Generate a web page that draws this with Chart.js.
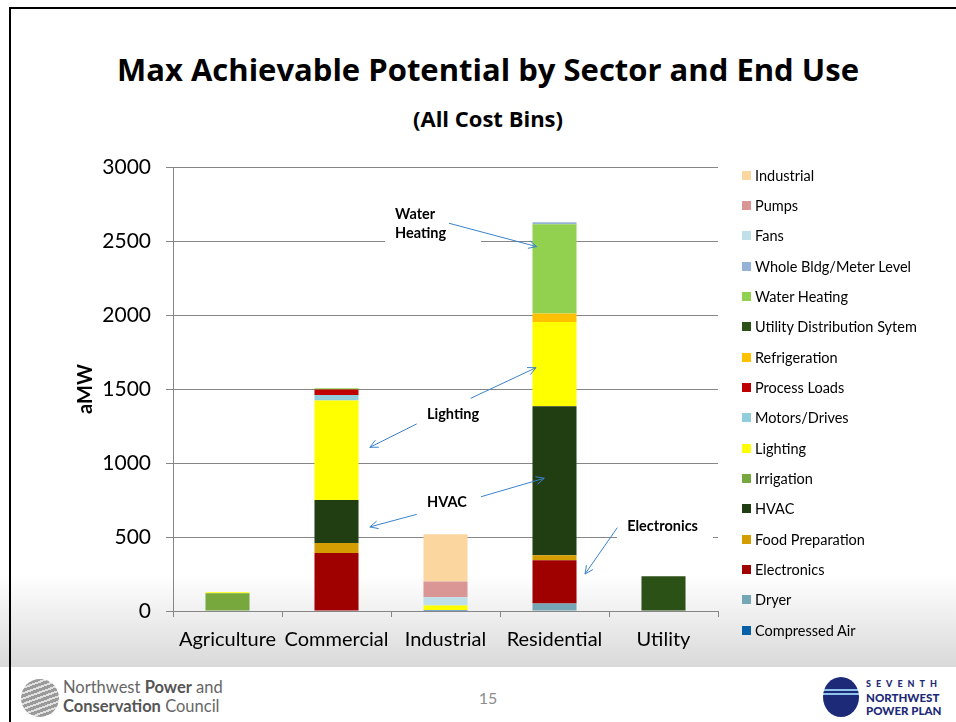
<!DOCTYPE html>
<html lang="en">
<head>
<meta charset="utf-8">
<title>Max Achievable Potential by Sector and End Use</title>
<script src="https://cdn.jsdelivr.net/npm/chart.js"></script>
<style>
  html, body { margin: 0; padding: 0; width: 956px; height: 722px; overflow: hidden; background: #fff; font-family: Lato, "Open Sans", sans-serif; }
  .fundo_slide { position: absolute; left: 0; top: 575px; width: 956px; height: 92px; background: linear-gradient(#ffffff, #d9d9d9); }
  .moldura { position: absolute; left: 9px; top: 7px; width: 980px; height: 740px; border: 2px solid #000; box-sizing: border-box; }
  #grafico { position: absolute; left: 0; top: 0; }
  .titulo { position: absolute; left: 0; width: 976px; text-align: center; font-family: "Open Sans", sans-serif; font-weight: bold; color: #000; white-space: nowrap; line-height: 1.2; }
  .titulo_principal { top: 51px; font-size: 31px; }
  .subtitulo { top: 105px; font-size: 22px; }
  #legenda { position: absolute; left: 742px; top: 160px; margin: 0; padding: 0; list-style: none; }
  #legenda li { height: 30.33px; display: flex; align-items: center; font-size: 14.5px; color: #000; white-space: nowrap; }
  #legenda span.caixa { width: 9px; height: 9px; margin-right: 4px; flex: none; }
  .rodape_logo { position: absolute; left: 21px; top: 679px; width: 38px; height: 38px; border-radius: 50%;
    background: repeating-linear-gradient(160deg, #9a9a9a 0 3px, #e0e0e0 3px 5px); }
  .rodape_texto { position: absolute; left: 63px; top: 678px; font-size: 16.5px; line-height: 19px; color: #666; }
  .rodape_texto b { color: #555; }
  .pagina { position: absolute; left: 468px; width: 40px; top: 688px; text-align: center; font-size: 16px; color: #8c8c8c; }
  .logo_plano { position: absolute; left: 823px; top: 677px; width: 36px; height: 40px; border-radius: 50%;
    background: linear-gradient(#1d2a78 0 12px, #8fc3ec 12px 14px, #1d2a78 14px 16px, #8fc3ec 16px 18px, #1d2a78 18px); }
  .texto_plano { position: absolute; left: 866px; top: 676px; color: #1d2a78; font-weight: 900; font-size: 11.5px; line-height: 13.5px; }
  .texto_plano .espaco { letter-spacing: 5px; font-size: 9px; }
</style>
</head>
<body>
  <div class="fundo_slide"></div>
  <div class="moldura"></div>
  <div class="titulo titulo_principal">Max Achievable Potential by Sector and End Use</div>
  <div class="titulo subtitulo">(All Cost Bins)</div>
  <canvas id="grafico" width="956" height="665"></canvas>
  <ul id="legenda"></ul>

  <div class="rodape_logo"></div>
  <div class="rodape_texto">Northwest <b>Power</b> and<br><b>Conservation</b> Council</div>
  <div class="pagina">15</div>
  <div class="logo_plano"></div>
  <div class="texto_plano"><span class="espaco">SEVENTH</span><br>NORTHWEST<br>POWER PLAN</div>

<script>
    // Setores (eixo X) e marcas do eixo Y
    const setores = ["Agriculture", "Commercial", "Industrial", "Residential", "Utility"];
    const marcasY = [0, 500, 1000, 1500, 2000, 2500, 3000];

    // aMW por uso final, na ordem de empilhamento (de baixo para cima)
    const compressedAir  = [0,   0,   7,    0,   0];
    const dryer          = [0,   0,   0,   50,   0];
    const electronics    = [0, 392,   0,  293,   0];
    const foodPrep       = [0,  67,   0,   34,   0];
    const hvac           = [0, 291,   0, 1007,   0];
    const irrigation     = [120, 0,   0,    0,   0];
    const lighting       = [6, 672,  31,  568,   0];
    const motorsDrives   = [0,  37,   0,    0,   0];
    const processLoads   = [0,  38,   0,    0,   0];
    const refrigeration  = [0,   0,   0,   58,   0];
    const utilityDist    = [0,   0,   0,    0, 235];
    const waterHeating   = [0,   8,   0,  604,   0];
    const wholeBldg      = [0,   0,   0,   13,   0];
    const fans           = [0,   0,  55,    0,   0];
    const pumps          = [0,   0, 107,    0,   0];
    const industrial     = [0,   0, 318,    0,   0];

    const nomesSeries = ["Compressed Air", "Dryer", "Electronics", "Food Preparation", "HVAC", "Irrigation",
        "Lighting", "Motors/Drives", "Process Loads", "Refrigeration", "Utility Distribution Sytem",
        "Water Heating", "Whole Bldg/Meter Level", "Fans", "Pumps", "Industrial"];
    const valoresSeries = [compressedAir, dryer, electronics, foodPrep, hvac, irrigation, lighting,
        motorsDrives, processLoads, refrigeration, utilityDist, waterHeating, wholeBldg, fans, pumps, industrial];
    const coresSeries = ["#0660a8", "#75a6b5", "#9f0000", "#d49e02", "#213e12", "#76a83e", "#ffff00",
        "#92cddc", "#c00000", "#ffc000", "#2b5116", "#92d050", "#95b3d7", "#bfdfe9", "#d99694", "#fcd69f"];

    // Notas com setas (posições em unidades de categoria / aMW)
    const notas = [
        { texto: ["Water", "Heating"], pos: [1.537, 2681], caixa: [1.445, 2757, 2.326, 2426],
          setas: [[2.032, 2620, 2.837, 2462]] },
        { texto: ["Lighting"], pos: [1.830, 1331],
          setas: [[1.736, 1264, 1.306, 1106], [2.231, 1437, 2.830, 1644]] },
        { texto: ["HVAC"], pos: [1.830, 734],
          setas: [[1.736, 653, 1.306, 568], [2.326, 772, 2.906, 897]] },
        { texto: ["Electronics"], pos: [3.667, 574], caixa: [3.573, 669, 4.454, 466],
          setas: [[3.576, 563, 3.280, 250]] }
    ];

    const pluginNotas = {
        id: "notas",
        afterDatasetsDraw(chart) {
            const { ctx, scales: { x, y } } = chart;
            const x0 = x.getPixelForValue(0);
            const passo = x.getPixelForValue(1) - x0;
            const px = (c) => x0 + c * passo;
            const py = (v) => y.getPixelForValue(v);

            ctx.save();
            notas.forEach((nota) => {
                if (nota.caixa) {
                    const [c1, v1, c2, v2] = nota.caixa;
                    ctx.fillStyle = "#ffffff";
                    ctx.fillRect(px(c1), py(v1), px(c2) - px(c1), py(v2) - py(v1));
                }
                ctx.fillStyle = "#000000";
                ctx.font = "bold 14.5px Lato";
                ctx.textAlign = "left";
                ctx.textBaseline = "middle";
                nota.texto.forEach((linha, i) => {
                    ctx.fillText(linha, px(nota.pos[0]), py(nota.pos[1]) + i * 19);
                });

                ctx.strokeStyle = "#3a83cc";
                ctx.lineWidth = 1;
                nota.setas.forEach(([ca, va, cb, vb]) => {
                    const ax = px(ca), ay = py(va), bx = px(cb), by = py(vb);
                    const ang = Math.atan2(by - ay, bx - ax);
                    ctx.beginPath();
                    ctx.moveTo(ax, ay);
                    ctx.lineTo(bx, by);
                    ctx.moveTo(bx - 9 * Math.cos(ang - 0.45), by - 9 * Math.sin(ang - 0.45));
                    ctx.lineTo(bx, by);
                    ctx.lineTo(bx - 9 * Math.cos(ang + 0.45), by - 9 * Math.sin(ang + 0.45));
                    ctx.stroke();
                });
            });
            ctx.restore();
        }
    };

    const grafico = new Chart(document.getElementById("grafico"), {
        type: "bar",
        data: {
            labels: setores,
            datasets: nomesSeries.map((nome, i) => ({
                label: nome,
                data: valoresSeries[i],
                backgroundColor: coresSeries[i],
                borderWidth: 0,
                barPercentage: 0.404,
                categoryPercentage: 1
            }))
        },
        options: {
            responsive: false,
            animation: false,
            layout: { padding: { left: 74, right: 238, top: 167, bottom: 14 } },
            plugins: {
                legend: { display: false },
                tooltip: { enabled: false }
            },
            scales: {
                x: {
                    stacked: true,
                    afterFit: (escala) => { escala.height = 40; },
                    grid: { drawOnChartArea: false, drawTicks: true, tickLength: 6, color: "#868686", offset: true },
                    border: { display: true, color: "#868686" },
                    ticks: { color: "#000", font: { family: "Lato", size: 20 }, padding: 11, maxRotation: 0, autoSkip: false }
                },
                y: {
                    stacked: true,
                    min: 0,
                    max: 3000,
                    afterBuildTicks: (escala) => { escala.ticks = marcasY.map((v) => ({ value: v })); },
                    afterFit: (escala) => { escala.width = 99; },
                    grid: { color: "#868686", tickLength: 7, drawTicks: true },
                    border: { display: true, color: "#868686" },
                    ticks: { color: "#000", font: { family: "Lato", size: 21 }, padding: 15, callback: (v) => String(v) },
                    title: { display: true, text: "aMW", color: "#000", font: { family: "Lato", size: 20, weight: "bold" }, padding: { top: 0, bottom: 6 } }
                }
            }
        },
        plugins: [pluginNotas]
    });

    // Legenda em HTML, gerada pelos itens do próprio Chart.js (ordem invertida, como no Excel)
    const itens = Chart.defaults.plugins.legend.labels.generateLabels(grafico).reverse();
    const legenda = document.getElementById("legenda");
    itens.forEach((item) => {
        const li = document.createElement("li");
        const caixa = document.createElement("span");
        caixa.className = "caixa";
        caixa.style.background = item.fillStyle;
        li.appendChild(caixa);
        li.appendChild(document.createTextNode(item.text));
        legenda.appendChild(li);
    });
</script>
</body>
</html>
